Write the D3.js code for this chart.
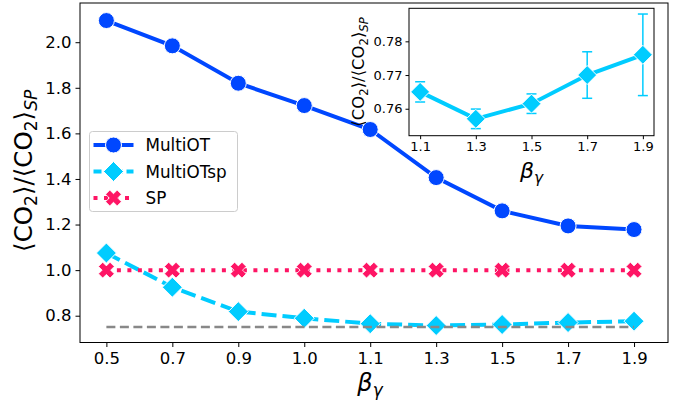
<!DOCTYPE html>
<html>
<head>
<meta charset="utf-8">
<script src="https://cdnjs.cloudflare.com/ajax/libs/d3/7.8.5/d3.min.js"></script>
<style>
  body { margin: 0; background: #fff; }
  text { font-family: "DejaVu Sans", sans-serif; fill: #000; }
</style>
</head>
<body>
<div id="chart"></div>
<script>
// data
var categories = ["0.5", "0.7", "0.9", "1.0", "1.1", "1.3", "1.5", "1.7", "1.9"];
var multiOT = [2.095, 1.984, 1.820, 1.722, 1.617, 1.406, 1.260, 1.194, 1.178];
var multiOTsp = [1.075, 0.925, 0.818, 0.789, 0.765, 0.757, 0.7615, 0.770, 0.776];
var spValues = [1, 1, 1, 1, 1, 1, 1, 1, 1];
var baselineValue = 0.75;
var yTicks = [0.8, 1.0, 1.2, 1.4, 1.6, 1.8, 2.0];

var insetX = [1.1, 1.3, 1.5, 1.7, 1.9];
var insetMean = [0.765, 0.757, 0.7615, 0.770, 0.776];
var insetErr = [0.0030, 0.0029, 0.0029, 0.0069, 0.0121];
var insetYTicks = [0.76, 0.77, 0.78];

var legendNames = ["MultiOT", "MultiOTsp", "SP"];

var svgWidth = 682;
var svgHeight = 408;

var blue = "#0047ff";
var cyan = "#00ccff";
var pink = "#fe1565";

var svg = d3.select("#chart")
  .append("svg")
  .attr("width", svgWidth)
  .attr("height", svgHeight);

// main axes box
var main = { left: 80, right: 668, top: 3, bottom: 342.5 };

var xScale = d3.scaleLinear()
  .domain([-0.4, 8.515])
  .range([main.left, main.right]);

var yScale = d3.scaleLinear()
  .domain([0.6825, 2.172])
  .range([main.bottom, main.top]);

// filled "X" marker like matplotlib
function xMarker(a, b) {
  var pts = [[-b, -a], [b, -a], [b, -b], [a, -b], [a, b], [b, b], [b, a], [-b, a], [-b, b], [-a, b], [-a, -b], [-b, -b]];
  var c = Math.SQRT1_2;
  return "M" + pts.map(p => [(p[0] - p[1]) * c, (p[0] + p[1]) * c].join(",")).join("L") + "Z";
}
function diamond(r) {
  return `M0,${-r}L${r},0L0,${r}L${-r},0Z`;
}

// mathtext-ish label <CO2>/<CO2>_SP
function ratioLabel(sel, size) {
  var sub = size * 0.7;
  var dy = size * 0.22;
  sel.append("tspan").text("\u27e8CO");
  sel.append("tspan").attr("font-size", sub).attr("dy", dy).text("2");
  sel.append("tspan").attr("dy", -dy).text("\u27e9/\u27e8CO");
  sel.append("tspan").attr("font-size", sub).attr("dy", dy).text("2");
  sel.append("tspan").attr("dy", -dy).text("\u27e9");
  sel.append("tspan").attr("font-size", sub).attr("font-style", "italic").attr("dy", dy).text("SP");
}
function betaLabel(sel, size) {
  sel.append("tspan").attr("font-style", "italic").text("\u03b2");
  sel.append("tspan").attr("font-style", "italic").attr("font-size", size * 0.7).attr("dy", size * 0.22).text("\u03b3");
}

// Step 1: axes
var xAxis = d3.axisBottom(xScale)
  .tickValues(d3.range(categories.length))
  .tickFormat(i => categories[i])
  .tickSize(4.5).tickPadding(5);
var yAxis = d3.axisLeft(yScale)
  .tickValues(yTicks)
  .tickFormat(d3.format(".1f"))
  .tickSize(4.5).tickPadding(4);

var gx = svg.append("g")
  .attr("transform", `translate(0, ${main.bottom})`)
  .call(xAxis);
var gy = svg.append("g")
  .attr("transform", `translate(${main.left}, 0)`)
  .call(yAxis);
[gx, gy].forEach(function(g) {
  g.select(".domain").remove();
  g.selectAll("text").attr("font-size", 16.5).attr("font-family", "DejaVu Sans").attr("fill", "#000");
  g.selectAll("line").attr("stroke", "#000").attr("stroke-width", 1);
});

svg.append("rect")
  .attr("x", main.left).attr("y", main.top)
  .attr("width", main.right - main.left).attr("height", main.bottom - main.top)
  .attr("fill", "none").attr("stroke", "#000").attr("stroke-width", 1);

// Step 2: lines and markers
var line = d3.line().x((d, i) => xScale(i)).y(d => yScale(d));

svg.append("path").datum(multiOT)
  .attr("d", line).attr("fill", "none")
  .attr("stroke", blue).attr("stroke-width", 4);
svg.selectAll(".mot").data(multiOT).enter()
  .append("circle").attr("class", "mot")
  .attr("cx", (d, i) => xScale(i)).attr("cy", d => yScale(d))
  .attr("r", 8).attr("fill", blue).attr("stroke", "#fff").attr("stroke-width", 1);

svg.append("path").datum(multiOTsp)
  .attr("d", line).attr("fill", "none")
  .attr("stroke", cyan).attr("stroke-width", 4).attr("stroke-dasharray", "15,6");
svg.selectAll(".motsp").data(multiOTsp).enter()
  .append("path").attr("class", "motsp")
  .attr("transform", (d, i) => `translate(${xScale(i)}, ${yScale(d)})`)
  .attr("d", diamond(10)).attr("fill", cyan).attr("stroke", "#fff").attr("stroke-width", 1);

svg.append("path").datum(spValues)
  .attr("d", line).attr("fill", "none")
  .attr("stroke", pink).attr("stroke-width", 4).attr("stroke-dasharray", "4,6.5");
svg.selectAll(".sp").data(spValues).enter()
  .append("path").attr("class", "sp")
  .attr("transform", (d, i) => `translate(${xScale(i)}, ${yScale(d)})`)
  .attr("d", xMarker(8.2, 3)).attr("fill", pink).attr("stroke", "#fff").attr("stroke-width", 0.8);

svg.append("line")
  .attr("x1", xScale(0)).attr("x2", xScale(categories.length - 1))
  .attr("y1", yScale(baselineValue)).attr("y2", yScale(baselineValue))
  .attr("stroke", "#888").attr("stroke-width", 2.5).attr("stroke-dasharray", "9,4.5");

// Step 3: axis labels
svg.append("text")
  .attr("transform", `translate(32, ${(main.top + main.bottom) / 2 - 2}) rotate(-90)`)
  .attr("text-anchor", "middle").attr("font-size", 24.5)
  .call(ratioLabel, 24.5);

svg.append("text")
  .attr("x", (main.left + main.right) / 2 - 4).attr("y", 391)
  .attr("text-anchor", "middle").attr("font-size", 24)
  .call(betaLabel, 24);

// Step 4: legend
var legend = svg.append("g").attr("transform", "translate(89.5, 131.5)");
legend.append("rect")
  .attr("width", 148).attr("height", 80).attr("rx", 3)
  .attr("fill", "#fff").attr("fill-opacity", 0.8)
  .attr("stroke", "#ccc").attr("stroke-width", 1);
var rows = [
  { color: blue, dash: null, mark: "circle" },
  { color: cyan, dash: "15,6", mark: "diamond" },
  { color: pink, dash: "4,6.5", mark: "x" }
];
rows.forEach(function(r, i) {
  var y = 13.5 + i * 26.5;
  var g = legend.append("g").attr("transform", `translate(0, ${y})`);
  g.append("line").attr("x1", 4).attr("x2", 44).attr("y1", 0).attr("y2", 0)
    .attr("stroke", r.color).attr("stroke-width", 4)
    .attr("stroke-dasharray", i == 1 ? "8,4,17,4,8" : r.dash);
  if (r.mark == "circle") {
    g.append("circle").attr("cx", 24).attr("r", 8).attr("fill", r.color).attr("stroke", "#fff");
  } else if (r.mark == "diamond") {
    g.append("path").attr("transform", "translate(24,0)").attr("d", diamond(10)).attr("fill", r.color).attr("stroke", "#fff");
  } else {
    g.append("path").attr("transform", "translate(24,0)").attr("d", xMarker(8.2, 3)).attr("fill", r.color).attr("stroke", "#fff").attr("stroke-width", 0.8);
  }
  g.append("text").attr("x", 56).attr("y", 6).attr("font-size", 16.8).text(legendNames[i]);
});

// Step 5: inset
var inset = { left: 409, right: 654, top: 8.3, bottom: 135.7 };
var ix = d3.scaleLinear().domain([1.06, 1.94]).range([inset.left, inset.right]);
var iy = d3.scaleLinear().domain([0.752, 0.7898]).range([inset.bottom, inset.top]);

svg.append("rect")
  .attr("x", inset.left).attr("y", inset.top)
  .attr("width", inset.right - inset.left).attr("height", inset.bottom - inset.top)
  .attr("fill", "#fff").attr("stroke", "#000").attr("stroke-width", 1);

var igx = svg.append("g")
  .attr("transform", `translate(0, ${inset.bottom})`)
  .call(d3.axisBottom(ix).tickValues(insetX).tickFormat(d3.format(".1f")).tickSize(3.5).tickPadding(3));
var igy = svg.append("g")
  .attr("transform", `translate(${inset.left}, 0)`)
  .call(d3.axisLeft(iy).tickValues(insetYTicks).tickFormat(d3.format(".2f")).tickSize(3.5).tickPadding(3));
[igx, igy].forEach(function(g) {
  g.select(".domain").remove();
  g.selectAll("text").attr("font-size", 13).attr("font-family", "DejaVu Sans").attr("fill", "#000");
  g.selectAll("line").attr("stroke", "#000").attr("stroke-width", 1);
});

var insetData = insetX.map((x, i) => ({ x: x, m: insetMean[i], e: insetErr[i] }));
var errs = svg.selectAll(".err").data(insetData).enter().append("g").attr("class", "err");
errs.append("line")
  .attr("x1", d => ix(d.x)).attr("x2", d => ix(d.x))
  .attr("y1", d => iy(d.m - d.e)).attr("y2", d => iy(d.m + d.e))
  .attr("stroke", cyan).attr("stroke-width", 1.5);
[-1, 1].forEach(function(s) {
  errs.append("line")
    .attr("x1", d => ix(d.x) - 5).attr("x2", d => ix(d.x) + 5)
    .attr("y1", d => iy(d.m + s * d.e)).attr("y2", d => iy(d.m + s * d.e))
    .attr("stroke", cyan).attr("stroke-width", 1.5);
});
svg.append("path").datum(insetData)
  .attr("d", d3.line().x(d => ix(d.x)).y(d => iy(d.m)))
  .attr("fill", "none").attr("stroke", cyan).attr("stroke-width", 4);
svg.selectAll(".idia").data(insetData).enter()
  .append("path").attr("class", "idia")
  .attr("transform", d => `translate(${ix(d.x)}, ${iy(d.m)})`)
  .attr("d", diamond(9.5)).attr("fill", cyan).attr("stroke", "#fff").attr("stroke-width", 1);

svg.append("text")
  .attr("transform", `translate(364, ${(inset.top + inset.bottom) / 2}) rotate(-90)`)
  .attr("text-anchor", "middle").attr("font-size", 16.5)
  .call(ratioLabel, 16.5);

svg.append("text")
  .attr("x", (inset.left + inset.right) / 2).attr("y", 178)
  .attr("text-anchor", "middle").attr("font-size", 22)
  .call(betaLabel, 22);
</script>
</body>
</html>
